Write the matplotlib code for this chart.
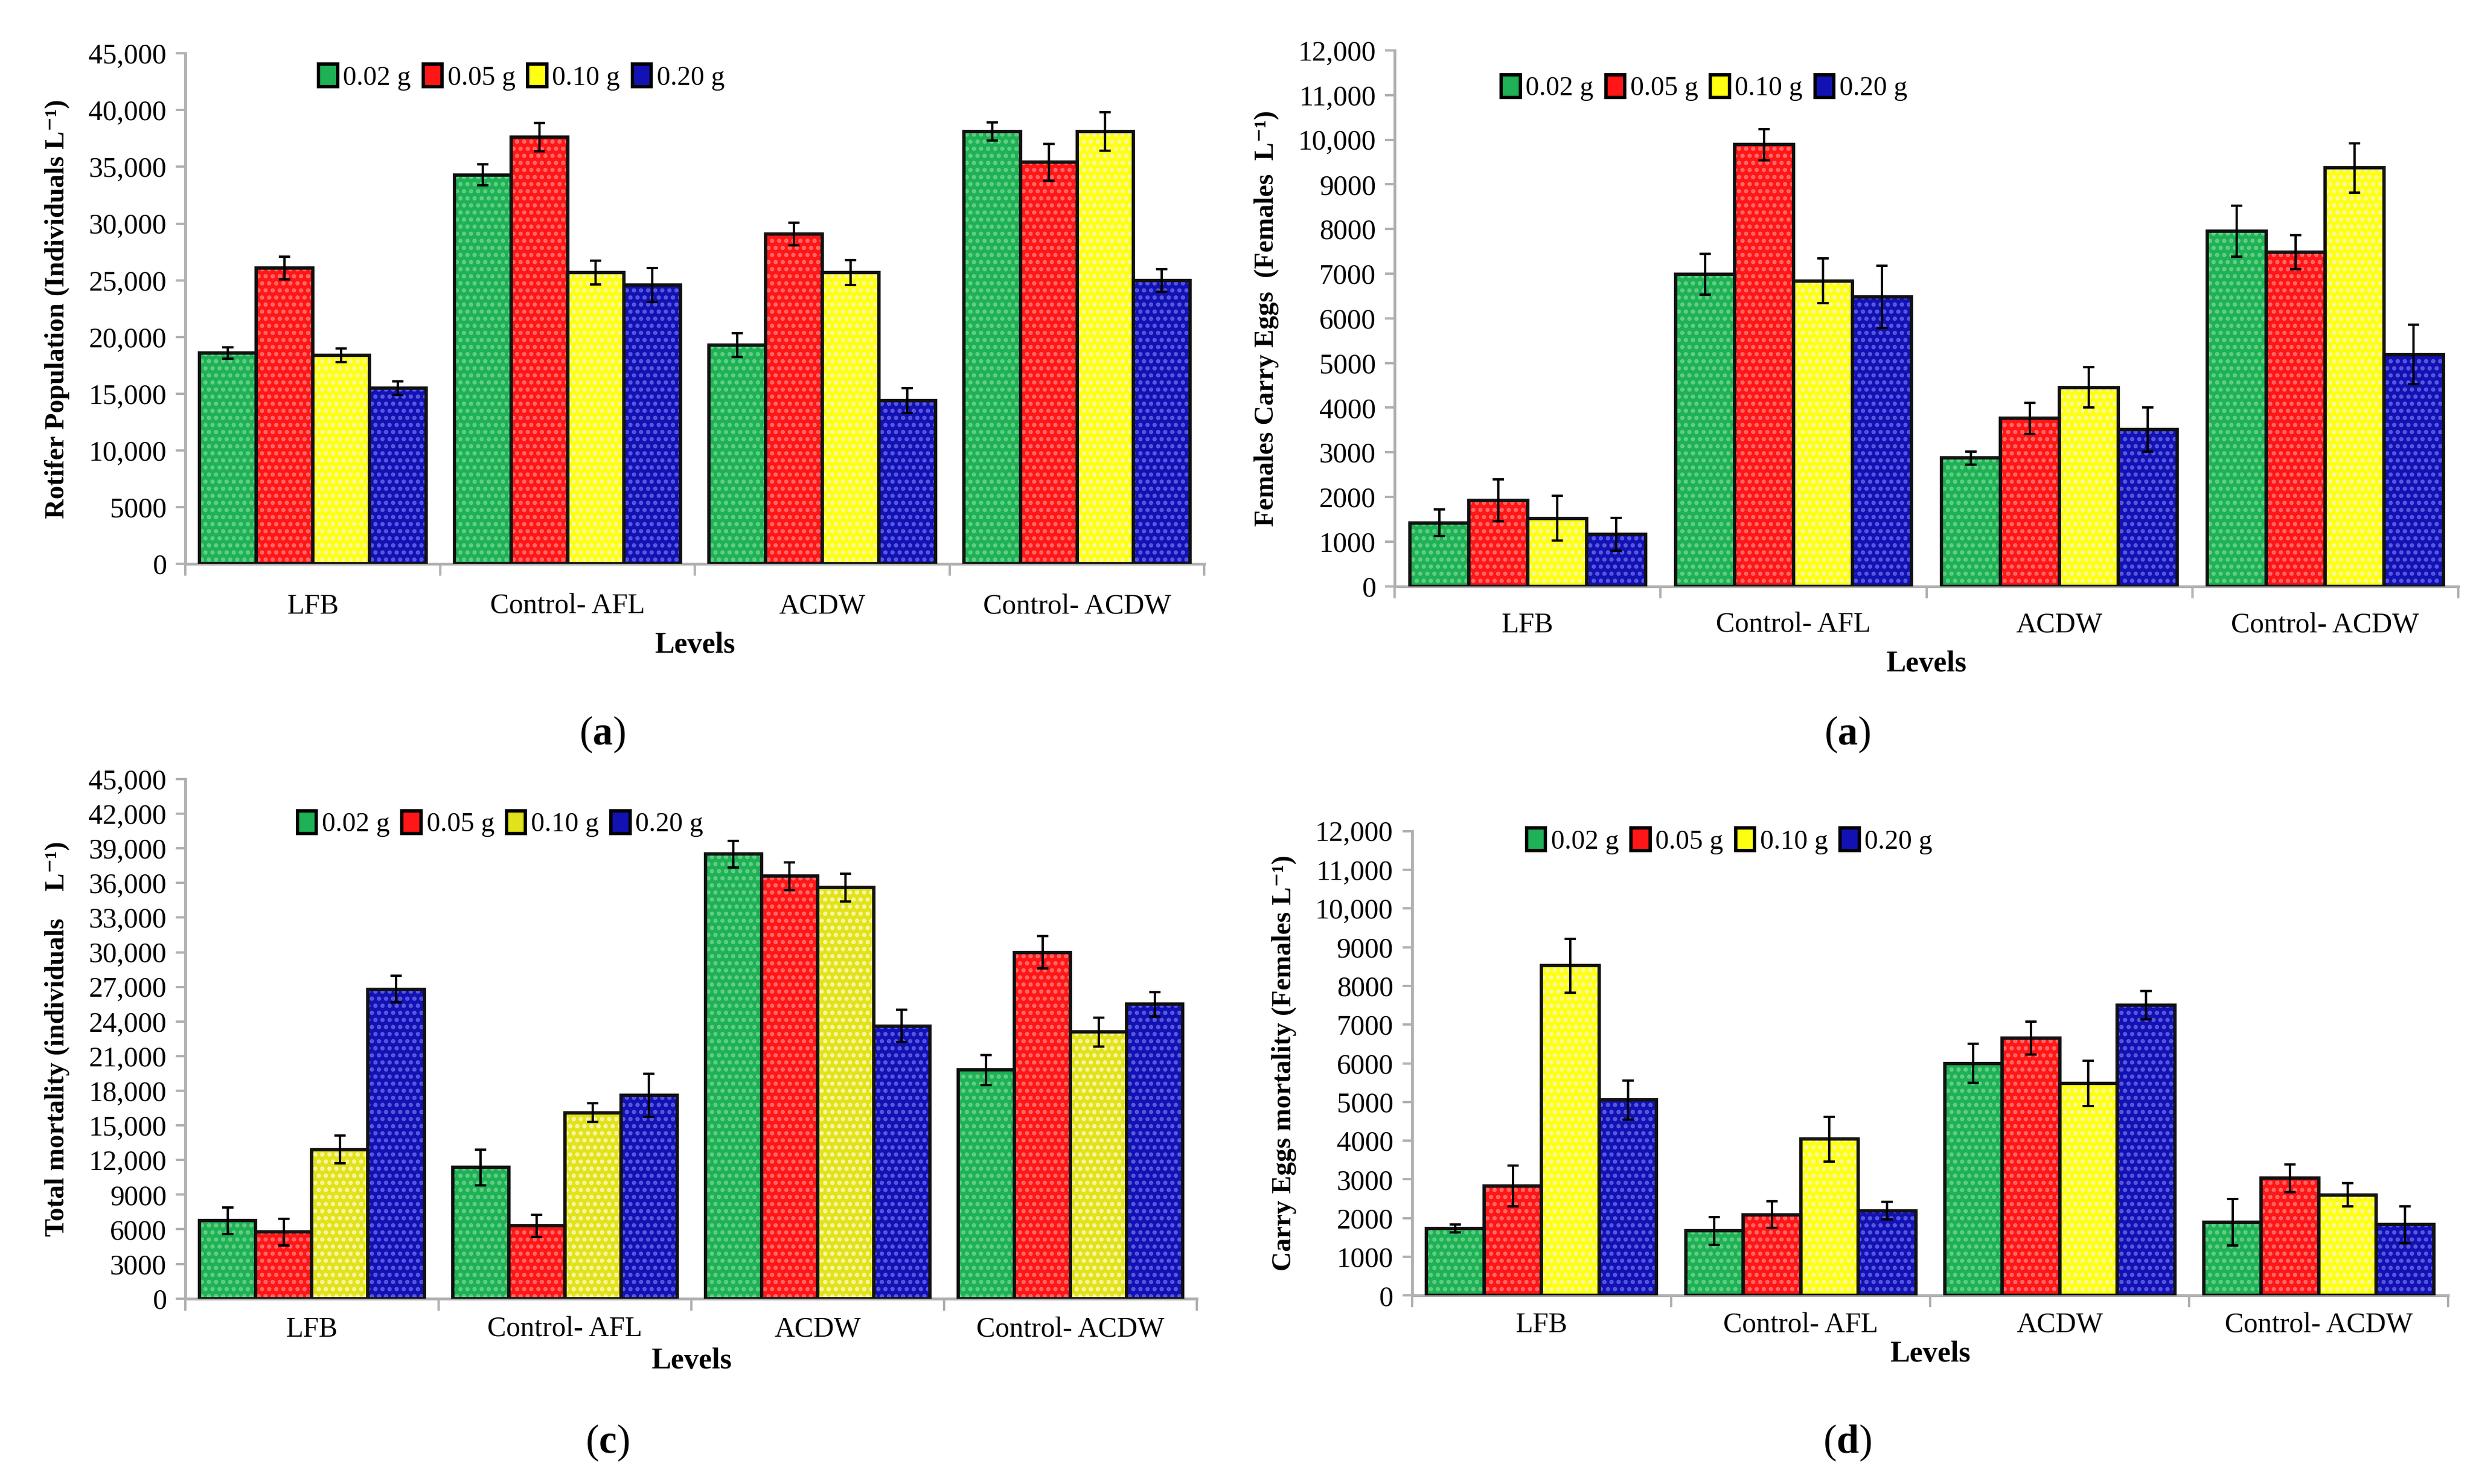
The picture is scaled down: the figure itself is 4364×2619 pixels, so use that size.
import numpy as np
import matplotlib
matplotlib.use('Agg')
from matplotlib import pyplot as plt
from matplotlib.patches import Patch
from matplotlib.ticker import FuncFormatter, MultipleLocator

plt.rcParams['font.family'] = ['Liberation Serif', 'DejaVu Serif']
plt.rcParams['mathtext.fontset'] = 'custom'
plt.rcParams['mathtext.rm'] = 'Liberation Serif'
plt.rcParams['mathtext.bf'] = 'Liberation Serif:bold'
plt.rcParams['hatch.linewidth'] = 1.2

levels = ['LFB', 'Control- AFL', 'ACDW', 'Control- ACDW']
doses = ['0.02 g', '0.05 g', '0.10 g', '0.20 g']

# (a) rotifer population
pop_mean = [[18600, 34300, 19300, 38100],
             [26100, 37600, 29100, 35400],
             [18400, 25700, 25700, 38100],
             [15500, 24600, 14400, 25000]]
pop_err = [[500, 900, 1050, 800],
           [1000, 1250, 1000, 1600],
           [600, 1050, 1100, 1700],
           [600, 1500, 1100, 1000]]

# (b) females carrying eggs
eggs_mean = [[1420, 6990, 2870, 7950],
             [1920, 9890, 3760, 7480],
             [1520, 6840, 4450, 9370],
             [1160, 6480, 3510, 5190]]
eggs_err = [[300, 460, 150, 570],
            [470, 350, 350, 380],
            [500, 500, 450, 550],
            [370, 700, 500, 670]]

# (c) total mortality
mort_mean = [[6750, 11350, 38500, 19800],
             [5760, 6300, 36600, 30000],
             [12900, 16100, 35600, 23100],
             [26800, 17600, 23600, 25500]]
mort_err = [[1150, 1550, 1150, 1300],
            [1150, 950, 1200, 1400],
            [1200, 800, 1200, 1250],
            [1150, 1850, 1400, 1050]]

# (d) carry eggs mortality
emort_mean = [[1730, 1670, 6000, 1890],
              [2830, 2090, 6650, 3030],
              [8520, 4040, 5480, 2600],
              [5050, 2190, 7500, 1830]]
emort_err = [[100, 360, 500, 600],
             [530, 340, 430, 360],
             [700, 580, 580, 300],
             [500, 230, 370, 480]]

colors = ['#1fb155', '#ff1616', '#ffff12', '#1212b4']
dots = ['#63cf86', '#ff6a6a', '#f7f7a8', '#5a5ae0']


def fmt(v, pos):
    v = int(round(v))
    if v >= 10000:
        return '{:,}'.format(v)
    return str(v)


def panel(ax, means, errs, ymax, ystep, ylabel, legend_xy, cols, tpad, lpad):
    x = np.arange(len(levels))
    w = 0.222
    for i in range(len(doses)):
        pos = x + (i - 1.5) * w
        ax.bar(pos, means[i], w, color=cols[i], edgecolor=dots[i], hatch='....', linewidth=0, zorder=2)
        ax.bar(pos, means[i], w, fill=False, edgecolor='#111111', linewidth=1.4, zorder=3)
        ax.errorbar(pos, means[i], yerr=errs[i], fmt='none', ecolor='black',
                    elinewidth=1.0, capsize=2.5, capthick=1.0, zorder=4)
    ax.set_xlim(-0.5, 3.5)
    ax.set_ylim(0, ymax)
    ax.yaxis.set_major_locator(MultipleLocator(ystep))
    ax.yaxis.set_major_formatter(FuncFormatter(fmt))
    ax.set_xticks(x)
    ax.set_xticklabels(levels, fontsize=12)
    ax.set_xticks(np.arange(-0.5, 4.0, 1.0), minor=True)
    ax.tick_params(axis='x', which='major', length=0, pad=tpad)
    ax.tick_params(axis='x', which='minor', length=5, color='#b0b0b0', width=1)
    ax.tick_params(axis='y', length=4, color='#b0b0b0', width=1, labelsize=12, pad=4)
    for s in ['top', 'right']:
        ax.spines[s].set_visible(False)
    for s in ['left', 'bottom']:
        ax.spines[s].set_color('#b0b0b0')
        ax.spines[s].set_linewidth(1.2)
    ax.set_xlabel('Levels', fontsize=12.5, fontweight='bold', labelpad=lpad)
    ax.set_ylabel(ylabel, fontsize=11.5, fontweight='bold', labelpad=8)
    handles = [Patch(facecolor=cols[i], edgecolor='black', linewidth=1.4) for i in range(4)]
    ax.legend(handles, doses, loc='upper left', bbox_to_anchor=legend_xy, ncol=4, frameon=False,
              fontsize=11.5, handlelength=0.7, handleheight=0.9, handletextpad=0.2,
              columnspacing=0.45, borderaxespad=0)


fig = plt.figure(figsize=(4364 / 300, 2619 / 300), dpi=300)

ax1 = fig.add_axes([0.075, 0.620, 0.412, 0.344])
panel(ax1, pop_mean, pop_err, 45000, 5000, 'Rotifer Population (Individuals L⁻¹)', (0.12, 1.0), colors, 12.5, 5)

ax2 = fig.add_axes([0.564, 0.605, 0.430, 0.361])
panel(ax2, eggs_mean, eggs_err, 12000, 1000, 'Females Carry Eggs  (Females  L⁻¹)', (0.09, 0.975), colors, 11, 5)

ax3 = fig.add_axes([0.075, 0.125, 0.409, 0.350])
panel(ax3, mort_mean, mort_err, 45000, 3000, 'Total mortality (individuals    L⁻¹)', (0.10, 0.96),
      ['#1fb155', '#ff1616', '#e2e21c', '#1212b4'], 7.6, 2)

ax4 = fig.add_axes([0.571, 0.127, 0.419, 0.313])
panel(ax4, emort_mean, emort_err, 12000, 1000, 'Carry Eggs mortality (Females L⁻¹)', (0.10, 1.03), colors, 7, 1)

fig.text(0.2436, 0.505, r'($\mathbf{a}$)', ha='center', va='center', fontsize=17)
fig.text(0.747, 0.505, r'($\mathbf{a}$)', ha='center', va='center', fontsize=17)
fig.text(0.2455, 0.028, r'($\mathbf{c}$)', ha='center', va='center', fontsize=17)
fig.text(0.747, 0.028, r'($\mathbf{d}$)', ha='center', va='center', fontsize=17)

fig.savefig('out.png', dpi=300)
